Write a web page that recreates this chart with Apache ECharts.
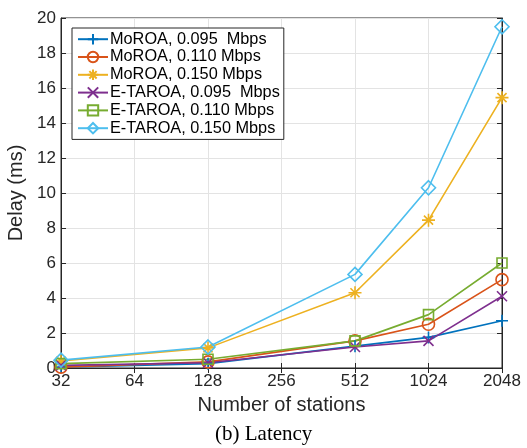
<!DOCTYPE html>
<html><head><meta charset="utf-8">
<script src="https://cdn.jsdelivr.net/npm/echarts@6/dist/echarts.min.js"></script>
<style>html,body{margin:0;padding:0;background:#fff}#c{width:527px;height:448px}</style>
</head><body><div id="c"></div>
<script>
const stations = [32, 128, 512, 1024, 2048];
const xTicks = [32, 64, 128, 256, 512, 1024, 2048];
const seriesNames = ['MoROA, 0.095  Mbps','MoROA, 0.110 Mbps','MoROA, 0.150 Mbps','E-TAROA, 0.095  Mbps','E-TAROA, 0.110 Mbps','E-TAROA, 0.150 Mbps'];
const moroa095 = [0.05, 0.25, 1.25, 1.75, 2.7];
const moroa110 = [0.05, 0.35, 1.55, 2.5, 5.05];
const moroa150 = [0.4, 1.15, 4.3, 8.45, 15.45];
const etaroa095 = [0.15, 0.3, 1.2, 1.55, 4.1];
const etaroa110 = [0.25, 0.5, 1.55, 3.05, 6.0];
const etaroa150 = [0.45, 1.2, 5.35, 10.3, 19.5];
const values = [moroa095, moroa110, moroa150, etaroa095, etaroa110, etaroa150];
const colors = ['#0072BD','#D95319','#EDB120','#7E2F8E','#77AC30','#4DBEEE'];
const symbols = [
  'path://M0,-1L0,1M-1,0L1,0',
  'circle',
  'path://M0,-1L0,1M-1,0L1,0M-0.7,-0.7L0.7,0.7M-0.7,0.7L0.7,-0.7',
  'path://M-1,-1L1,1M-1,1L1,-1',
  'rect',
  'diamond'
];
const sizes = [12, 12, 13, 10, 10, 14];
const font = 'Liberation Sans, Arial, Helvetica, sans-serif';
const chart = echarts.init(document.getElementById('c'));
const series = values.map((v, i) => ({
  name: seriesNames[i], type: 'line',
  data: stations.map((s, j) => [s, v[j]]),
  symbol: symbols[i], symbolSize: sizes[i],
  lineStyle: {color: colors[i], width: 1.6},
  itemStyle: {color: 'rgba(255,255,255,0)', borderColor: colors[i], borderWidth: 1.6},
  emphasis: {disabled: true}, animation: false, clip: false, z: 3
}));
const tickStyle = {color: '#262626', fontSize: 17, fontFamily: font};
chart.setOption({
  animation: false,
  grid: {left: 61, right: 25, top: 18, bottom: 80, show: true, borderColor: '#262626', borderWidth: 1, containLabel: false, outerBoundsMode: 'none'},
  legend: {
    orient: 'vertical', left: 72, top: 28, data: seriesNames,
    itemWidth: 30, itemHeight: 13, itemGap: 1.4,
    backgroundColor: '#fff', borderColor: '#262626', borderWidth: 1,
    padding: [3, 4, 3, 5],
    textStyle: {color: '#000', fontSize: 16.3, fontFamily: font, padding: [0,0,0,-3], lineHeight: 16.4}
  },
  xAxis: [{
    type: 'log', logBase: 2, min: 32, max: 2048, interval: 1,
    name: 'Number of stations', nameLocation: 'middle', nameGap: 27,
    nameTextStyle: {color: '#262626', fontSize: 20, fontFamily: font},
    axisLine: {show: true, lineStyle: {color: '#262626'}},
    axisTick: {show: true, inside: true, length: 5, lineStyle: {color: '#262626'}},
    axisLabel: Object.assign({margin: 5, formatter: v => String(Math.round(v))}, tickStyle),
    splitLine: {show: true, lineStyle: {color: '#e3e3e3', width: 1}}
  }, {
    type: 'log', logBase: 2, min: 32, max: 2048, interval: 1, position: 'top',
    axisLine: {show: true, lineStyle: {color: '#262626'}},
    axisTick: {show: true, inside: true, length: 5, lineStyle: {color: '#262626'}},
    axisLabel: {show: false}, splitLine: {show: false}
  }],
  yAxis: [{
    type: 'value', min: 0, max: 20, interval: 2,
    name: 'Delay (ms)', nameLocation: 'middle', nameGap: 31, nameRotate: 90,
    nameTextStyle: {color: '#262626', fontSize: 20, fontFamily: font},
    axisLine: {show: true, lineStyle: {color: '#262626'}},
    axisTick: {show: true, inside: true, length: 5, lineStyle: {color: '#262626'}},
    axisLabel: Object.assign({margin: 5}, tickStyle),
    splitLine: {show: true, lineStyle: {color: '#e3e3e3', width: 1}}
  }, {
    type: 'value', min: 0, max: 20, interval: 2, position: 'right',
    axisLine: {show: true, lineStyle: {color: '#262626'}},
    axisTick: {show: true, inside: true, length: 5, lineStyle: {color: '#262626'}},
    axisLabel: {show: false}, splitLine: {show: false}
  }],
  graphic: [{
    type: 'text', left: 215, top: 424,
    style: {text: '(b) Latency', font: '21px "Liberation Serif", "Times New Roman", serif', fill: '#000'}
  }],
  series: series
});
</script></body></html>
